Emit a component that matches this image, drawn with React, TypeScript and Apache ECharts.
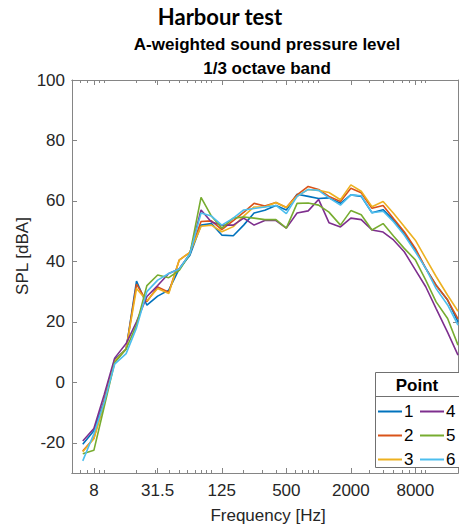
import React, { useEffect, useRef } from "react";
import * as echarts from "echarts";

const FREQS = [6.3, 8, 10, 12.5, 16, 20, 25, 31.5, 40, 50, 63, 80, 100, 125, 160, 200, 250, 315, 400, 500, 630, 800, 1000, 1250, 1600, 2000, 2500, 3150, 4000, 5000, 6300, 8000, 10000, 12500, 16000, 20000];

const P1 = [-20.5, -16, -6, 7.5, 11, 33.5, 25.5, 28.5, 30.5, 37.5, 42, 52, 52.5, 48.7, 48.5, 52, 56, 56.9, 58.5, 57, 62.2, 61.5, 60.8, 61, 59.2, 62, 61.5, 56.1, 57.1, 53.7, 49.3, 43.8, 37.7, 32.1, 27.2, 20];
const P2 = [-22.7, -18.5, -6, 7, 11, 32.5, 26.7, 31.5, 29.8, 40.4, 43, 53.2, 53.4, 50.5, 53.5, 56.2, 59.2, 58.3, 59.5, 57.8, 62, 64.8, 63.8, 61.5, 59.8, 64.2, 62.7, 57.6, 58.5, 54.2, 49.8, 44.3, 37.7, 32.1, 27.2, 21];
const P3 = [-23, -18.7, -7, 7, 11, 31, 27, 31, 29.4, 40.4, 43, 51.6, 52, 49.8, 51.5, 55, 58, 58, 59.5, 57.8, 61.5, 63.8, 63.5, 62.8, 60.4, 65.3, 63.2, 58.1, 59.8, 55.9, 51.5, 47, 41, 35, 28.8, 23.5];
const P4 = [-19.4, -15.3, -4, 8, 12.8, 20, 28.4, 32, 36, 37.5, 42.5, 57, 53, 52, 52, 54.3, 52, 53.5, 53.5, 51, 56, 56.7, 60.5, 52.8, 51.4, 54.3, 53.8, 50.4, 49.7, 47.1, 43.2, 37.2, 31.6, 24.4, 16.5, 9];
const P5 = [-23.6, -22.5, -8, 6.5, 11, 19, 32, 35.5, 34.6, 37, 42.5, 61.2, 55, 51, 54.3, 54.7, 54.3, 53.8, 53.8, 51, 59.2, 59.3, 58.6, 56.3, 52, 56.8, 55.4, 50.4, 52.5, 48.4, 44.3, 40.5, 33.8, 26.6, 21.1, 12.3];
const P6 = [-26, -17, -6.5, 6, 9.5, 18, 30, 33.8, 36, 37.5, 42.5, 56, 55, 52, 54.3, 57, 57.5, 58, 58.5, 55.8, 61.5, 63.8, 63.5, 61, 58.6, 62, 61.7, 56.1, 56.6, 53.1, 48.7, 43.2, 37.7, 31, 25.6, 18.9];

const SERIES_NAMES = ["1", "2", "3", "4", "5", "6"];
const SERIES_VALUES = [P1, P2, P3, P4, P5, P6];
const COLORS = ["#0072BD", "#D95319", "#EDB120", "#7E2F8E", "#77AC30", "#4DBEEE"];
const LEGEND_COL1 = ["1", "2", "3"];
const LEGEND_COL2 = ["4", "5", "6"];

const X_TICKS = [8, 31.5, 125, 500, 2000, 8000];
const X_TICK_LABELS = ["8", "31.5", "125", "500", "2000", "8000"];
const Y_TICKS = [-20, 0, 20, 40, 60, 80, 100];
const X_MIN = 5;
const X_MAX = 20000;
const Y_MIN = -30;
const Y_MAX = 100;

const FONT = "'Liberation Sans', Arial, sans-serif";
const AXIS_COLOR = "#858585";
const TEXT_COLOR = "#262626";

function minorTicks(): number[] {
  const out: number[] = [];
  for (let n = 0; n <= 4; n++) {
    for (let k = 1; k <= 9; k++) {
      const f = k * Math.pow(10, n);
      if (f >= X_MIN && f <= X_MAX) out.push(Math.log10(f));
    }
  }
  return out;
}

export default function App() {
  const ref = useRef<HTMLDivElement>(null);
  useEffect(() => {
    document.body.style.margin = "0";
    if (!ref.current) return;
    const chart = echarts.init(ref.current, undefined, { renderer: "svg" });
    const xMin = Math.log10(X_MIN);
    const xMax = Math.log10(X_MAX);
    const majors = X_TICKS.map((f) => Math.log10(f));
    const minors = minorTicks();
    const labelFor = (v: number) => {
      for (let i = 0; i < majors.length; i++) {
        if (Math.abs(majors[i] - v) < 1e-6) return X_TICK_LABELS[i];
      }
      return "";
    };
    const baseX = {
      type: "value",
      min: xMin,
      max: xMax,
      splitLine: { show: false },
      axisLine: { show: true, onZero: false, lineStyle: { color: AXIS_COLOR, width: 1 } },
      axisLabel: { show: false },
    };
    const legendBase = {
      orient: "vertical",
      top: 403,
      itemWidth: 24,
      itemHeight: 2,
      itemGap: 7,
      padding: 0,
      z: 6,
      icon: "rect",
      textStyle: { color: "#000", fontSize: 17, fontFamily: FONT, padding: [0, 0, 0, -3] },
    };
    const option: any = {
      animation: false,
      grid: { left: 72, top: 80, right: 1, bottom: 56, containLabel: false },
      xAxis: [
        {
          ...baseX,
          position: "bottom",
          axisTick: { show: true, inside: true, length: 5, customValues: majors, lineStyle: { color: AXIS_COLOR } },
          axisLabel: {
            show: true,
            customValues: majors,
            formatter: labelFor,
            color: TEXT_COLOR,
            fontSize: 17,
            fontFamily: FONT,
            margin: 9,
          },
        },
        {
          ...baseX,
          position: "bottom",
          axisTick: { show: true, inside: true, length: 3, customValues: minors, lineStyle: { color: AXIS_COLOR } },
        },
        {
          ...baseX,
          position: "top",
          axisTick: { show: true, inside: true, length: 5, customValues: majors, lineStyle: { color: AXIS_COLOR } },
        },
        {
          ...baseX,
          position: "top",
          axisTick: { show: true, inside: true, length: 3, customValues: minors, lineStyle: { color: AXIS_COLOR } },
        },
      ],
      yAxis: [
        {
          type: "value",
          min: Y_MIN,
          max: Y_MAX,
          position: "left",
          splitLine: { show: false },
          axisLine: { show: true, onZero: false, lineStyle: { color: AXIS_COLOR, width: 1 } },
          axisTick: { show: true, inside: true, length: 5, customValues: Y_TICKS, lineStyle: { color: AXIS_COLOR } },
          axisLabel: {
            customValues: Y_TICKS,
            color: TEXT_COLOR,
            fontSize: 17,
            fontFamily: FONT,
            margin: 7,
          },
        },
        {
          type: "value",
          min: Y_MIN,
          max: Y_MAX,
          position: "right",
          splitLine: { show: false },
          axisLine: { show: true, onZero: false, lineStyle: { color: AXIS_COLOR, width: 1 } },
          axisTick: { show: true, inside: true, length: 5, customValues: Y_TICKS, lineStyle: { color: AXIS_COLOR } },
          axisLabel: { show: false },
        },
      ],
      legend: [
        { ...legendBase, data: LEGEND_COL1, left: 378 },
        { ...legendBase, data: LEGEND_COL2, left: 420 },
      ],
      graphic: [
        {
          type: "text",
          x: 220,
          y: 16,
          style: {
            text: "Harbour test",
            font: "bold 22px Lato, 'Open Sans', sans-serif",
            fill: "#000",
            align: "center",
            verticalAlign: "middle",
          },
        },
        {
          type: "text",
          x: 267,
          y: 44,
          style: {
            text: "A-weighted sound pressure level",
            font: "bold 17px " + FONT,
            fill: "#000",
            align: "center",
            verticalAlign: "middle",
          },
        },
        {
          type: "text",
          x: 267,
          y: 68,
          style: {
            text: "1/3 octave band",
            font: "bold 17px " + FONT,
            fill: "#000",
            align: "center",
            verticalAlign: "middle",
          },
        },
        {
          type: "text",
          x: 268,
          y: 515,
          style: {
            text: "Frequency [Hz]",
            font: "17px " + FONT,
            fill: TEXT_COLOR,
            align: "center",
            verticalAlign: "middle",
          },
        },
        {
          type: "text",
          x: 22,
          y: 256,
          rotation: Math.PI / 2,
          style: {
            text: "SPL [dBA]",
            font: "17px " + FONT,
            fill: TEXT_COLOR,
            align: "center",
            verticalAlign: "middle",
          },
        },
        {
          type: "rect",
          z: 5,
          shape: { x: 375.5, y: 372.5, width: 90, height: 95 },
          style: { fill: "#fff", stroke: "#707070", lineWidth: 1 },
        },
        {
          type: "line",
          z: 5,
          shape: { x1: 375.5, y1: 396.5, x2: 465, y2: 396.5 },
          style: { stroke: "#707070", lineWidth: 1 },
        },
        {
          type: "text",
          z: 6,
          x: 417,
          y: 385,
          style: {
            text: "Point",
            font: "bold 17px " + FONT,
            fill: "#000",
            align: "center",
            verticalAlign: "middle",
          },
        },
      ],
      series: SERIES_NAMES.map((name, i) => ({
        name,
        type: "line",
        xAxisIndex: 0,
        yAxisIndex: 0,
        symbol: "none",
        showSymbol: false,
        color: COLORS[i],
        lineStyle: { width: 1.6, color: COLORS[i] },
        data: FREQS.map((f, j) => [Math.log10(f), SERIES_VALUES[i][j]]),
      })),
    };
    chart.setOption(option);
    return () => chart.dispose();
  }, []);
  return <div ref={ref} style={{ width: 459, height: 529 }} />;
}
